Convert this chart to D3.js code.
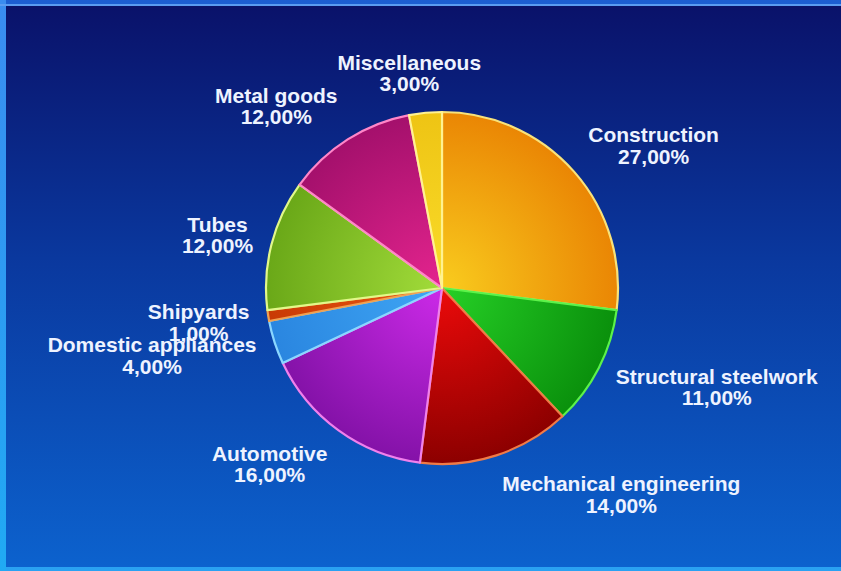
<!DOCTYPE html>
<html>
<head>
<meta charset="utf-8">
<script src="https://cdn.jsdelivr.net/npm/d3@7"></script>
<style>
  html, body { margin: 0; padding: 0; overflow: hidden; background: #0a2a8c; }
  svg { display: block; }
</style>
</head>
<body>
<svg id="chart" width="841" height="571"></svg>
<script>
// Steel consumption by end-use sector (percent of total)
const categories = [
  "Construction",
  "Structural steelwork",
  "Mechanical engineering",
  "Automotive",
  "Domestic appliances",
  "Shipyards",
  "Tubes",
  "Metal goods",
  "Miscellaneous"
];
const shares = [27, 11, 14, 16, 4, 1, 12, 12, 3];

// Slice palette: light tone near the hub, deep tone at the rim, bright edge line
const innerColors = ["#f9cc1e", "#26d026", "#ec0a0a", "#cc2ae8", "#3fa6f4", "#ec5a12", "#a2dc3a", "#e4248e", "#fadc2a"];
const outerColors = ["#ea8604", "#0a900c", "#8c0000", "#8412a8", "#2a86e0", "#c83a04", "#6aa818", "#a4106c", "#eec414"];
const edgeColors  = ["#f8e27a", "#5cf24a", "#f07a46", "#f080ec", "#8ad6ff", "#f0a050", "#e2f88a", "#ff86c8", "#fff290"];

const W = 841, H = 571;
const cx = 442, cy = 288, radius = 176;
const labelRadius = radius + 19;
const fontSize = 21, lineGap = 21.5, ascent = 19;

const pctFormat = d3.formatLocale({ decimal: ",", thousands: ".", grouping: [3], currency: ["", ""] }).format(".2f");

const svg = d3.select("#chart");
const defs = svg.append("defs");

// ---- background frame ----
const frameGrad = defs.append("linearGradient").attr("id", "frameGrad")
  .attr("x1", 0).attr("y1", 0).attr("x2", 0).attr("y2", 1);
frameGrad.append("stop").attr("offset", 0).attr("stop-color", "#1c5ed2");
frameGrad.append("stop").attr("offset", 1).attr("stop-color", "#2aa2f2");

const edgeGrad = defs.append("linearGradient").attr("id", "edgeGrad")
  .attr("x1", 0).attr("y1", 0).attr("x2", 0).attr("y2", 1);
edgeGrad.append("stop").attr("offset", 0).attr("stop-color", "#3a8cf0");
edgeGrad.append("stop").attr("offset", 1).attr("stop-color", "#20aaf4");

const panelGrad = defs.append("linearGradient").attr("id", "panelGrad")
  .attr("x1", 0).attr("y1", 0).attr("x2", 0).attr("y2", 1);
panelGrad.append("stop").attr("offset", 0).attr("stop-color", "#0a126a");
panelGrad.append("stop").attr("offset", 0.45).attr("stop-color", "#0a389e");
panelGrad.append("stop").attr("offset", 1).attr("stop-color", "#0c62ce");

svg.append("rect").attr("width", W).attr("height", H).attr("fill", "url(#frameGrad)");
svg.append("rect").attr("x", 0).attr("y", 0).attr("width", 6).attr("height", H).attr("fill", "url(#edgeGrad)");
svg.append("rect").attr("x", 0).attr("y", 4).attr("width", W).attr("height", 2).attr("fill", "#5a9cf2");
svg.append("rect").attr("x", 6).attr("y", 6).attr("width", W - 6).attr("height", H - 10).attr("fill", "url(#panelGrad)");

// ---- pie ----
const pie = d3.pie().sort(null).value(d => d);
const arcs = pie(shares);
const arc = d3.arc().innerRadius(0).outerRadius(radius);

arcs.forEach((d, i) => {
  const g = defs.append("radialGradient").attr("id", "slice" + i)
    .attr("gradientUnits", "userSpaceOnUse")
    .attr("cx", 0).attr("cy", 0).attr("r", radius);
  g.append("stop").attr("offset", 0).attr("stop-color", innerColors[i]);
  g.append("stop").attr("offset", 1).attr("stop-color", outerColors[i]);
});

const pieG = svg.append("g").attr("transform", `translate(${cx},${cy})`);
pieG.selectAll("path.slice")
  .data(arcs)
  .join("path")
  .attr("class", "slice")
  .attr("d", arc)
  .attr("fill", (d, i) => `url(#slice${i})`)
  .attr("stroke", (d, i) => edgeColors[i])
  .attr("stroke-width", 2.2)
  .attr("stroke-linejoin", "round");

// ---- labels ----
const labelLayer = svg.append("g")
  .attr("font-family", "'Liberation Sans', Arial, Helvetica, sans-serif")
  .attr("font-weight", "bold")
  .attr("font-size", fontSize)
  .attr("fill", "#eef3ff");

const labels = labelLayer.selectAll("g.label")
  .data(arcs)
  .join("g")
  .attr("class", "label");

labels.each(function (d, i) {
  const g = d3.select(this);
  const lines = [categories[i], pctFormat(shares[i]) + "%"];
  const texts = g.selectAll("text").data(lines).join("text")
    .attr("text-anchor", "middle")
    .attr("x", 0)
    .attr("y", (l, k) => k * lineGap)
    .text(l => l);
  const w = d3.max(texts.nodes(), n => n.getComputedTextLength());
  const a = (d.startAngle + d.endAngle) / 2;
  const px = cx + labelRadius * Math.sin(a);
  const py = cy - labelRadius * Math.cos(a);
  const boxH = 2 * lineGap;
  const midY = py - (boxH / 2) * Math.cos(a);
  const left = Math.sin(a) >= 0 ? px : px - w;
  d.box = { a, left, right: left + w, top: midY - boxH / 2, bottom: midY + boxH / 2 };
});

// labels sitting above/below the pie slide sideways off a neighbour they collide with
arcs.forEach((d, i) => {
  if (Math.abs(Math.cos(d.box.a)) < 0.9) return;
  arcs.forEach((o, j) => {
    if (i === j) return;
    const b = d.box, c = o.box;
    if (b.left < c.right && b.right > c.left && b.top < c.bottom && b.bottom > c.top) {
      const shift = (b.left + b.right) / 2 >= (c.left + c.right) / 2 ? c.right - b.left : c.left - b.right;
      b.left += shift;
      b.right += shift;
    }
  });
});

labels.attr("transform", d => `translate(${(d.box.left + d.box.right) / 2},${d.box.top + ascent})`);
</script>
</body>
</html>
